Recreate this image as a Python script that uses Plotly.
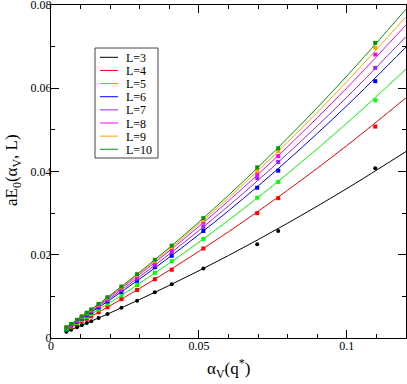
import plotly.graph_objects as go

# data points: alpha_V(q*) values
alpha = [0.0052, 0.0068, 0.0088, 0.0104, 0.0121, 0.0136, 0.0161, 0.0191,
         0.0238, 0.0291, 0.0351, 0.0408, 0.0515, 0.0697, 0.0768, 0.1096]

labels = ["L=3", "L=4", "L=5", "L=6", "L=7", "L=8", "L=9", "L=10"]
colors = ["#000000", "#ff0000", "#00ff00", "#0000ff", "#a020f0", "#ff00ff", "#ffa500", "#009900"]

E_L3 = [0.00151, 0.00199, 0.00259, 0.00307, 0.00358, 0.00404, 0.00481, 0.00575,
        0.00725, 0.00897, 0.01097, 0.01292, 0.0167, 0.0225, 0.0257, 0.0408]
E_L4 = [0.00195, 0.00256, 0.00333, 0.00395, 0.00461, 0.00520, 0.00619, 0.00740,
        0.00933, 0.01155, 0.01412, 0.01640, 0.0215, 0.0300, 0.0336, 0.0508]
E_L5 = [0.00214, 0.00280, 0.00365, 0.00433, 0.00506, 0.00571, 0.00681, 0.00814,
        0.01026, 0.01272, 0.01565, 0.01845, 0.0238, 0.0337, 0.0375, 0.0571]
E_L6 = [0.00230, 0.00302, 0.00393, 0.00467, 0.00546, 0.00616, 0.00734, 0.00878,
        0.01107, 0.01373, 0.01700, 0.01975, 0.0257, 0.0361, 0.0402, 0.0617]
E_L7 = [0.00240, 0.00315, 0.00410, 0.00486, 0.00568, 0.00641, 0.00764, 0.00914,
        0.01152, 0.01428, 0.01748, 0.02061, 0.0267, 0.0384, 0.0423, 0.0649]
E_L8 = [0.00249, 0.00326, 0.00425, 0.00504, 0.00589, 0.00665, 0.00792, 0.00947,
        0.01195, 0.01481, 0.01814, 0.02138, 0.0277, 0.0393, 0.0437, 0.0681]
E_L9 = [0.00253, 0.00332, 0.00432, 0.00513, 0.00600, 0.00677, 0.00807, 0.00965,
        0.01218, 0.01510, 0.01850, 0.02182, 0.0283, 0.0401, 0.0449, 0.0697]
E_L10 = [0.00256, 0.00336, 0.00438, 0.00520, 0.00608, 0.00686, 0.00818, 0.00979,
         0.01236, 0.01533, 0.01880, 0.02219, 0.0288, 0.0410, 0.0456, 0.0709]

fit_x = [0.0047, 0.02, 0.04, 0.06, 0.08, 0.10, 0.12]
fit_L3 = [0.00137, 0.00604, 0.01264, 0.01982, 0.02758, 0.0359, 0.0448]
fit_L4 = [0.00176, 0.00777, 0.01628, 0.02552, 0.0355, 0.04623, 0.0577]
fit_L5 = [0.00193, 0.00854, 0.01797, 0.02829, 0.0395, 0.0516, 0.0646]
fit_L6 = [0.00208, 0.00921, 0.0194, 0.03056, 0.0427, 0.0558, 0.0699]
fit_L7 = [0.00217, 0.00959, 0.02016, 0.03174, 0.0443, 0.05785, 0.0724]
fit_L8 = [0.00224, 0.00994, 0.02092, 0.03294, 0.04599, 0.06008, 0.0752]
fit_L9 = [0.00228, 0.01013, 0.02135, 0.03367, 0.04708, 0.06159, 0.0772]
fit_L10 = [0.00231, 0.01027, 0.02171, 0.03429, 0.04804, 0.06294, 0.0790]

points = [E_L3, E_L4, E_L5, E_L6, E_L7, E_L8, E_L9, E_L10]
fits = [fit_L3, fit_L4, fit_L5, fit_L6, fit_L7, fit_L8, fit_L9, fit_L10]

fig = go.Figure()
for lab, col, pts, ft in zip(labels, colors, points, fits):
    fig.add_trace(go.Scatter(x=fit_x, y=ft, mode="lines", name=lab,
                             line=dict(color=col, width=1, shape="spline"),
                             showlegend=False, hoverinfo="skip"))
    fig.add_trace(go.Scatter(x=alpha, y=pts, mode="markers", name=lab,
                             marker=dict(color=col, size=4,
                                         symbol="circle" if lab == "L=3" else "square"),
                             showlegend=False))

# manual legend box (pixel geometry of the plot area: x 51..406, y 5..338)
W, H, L0 = 355.0, 333.0, 51.0
def px(x):
    return (x - L0) / W
def py(y):
    return (338.0 - y) / H

shapes = [dict(type="rect", xref="paper", yref="paper",
               x0=px(95), x1=px(158), y0=py(158), y1=py(48),
               line=dict(color="#444444", width=1), fillcolor="white", layer="above")]
annotations = []
for i, (lab, col) in enumerate(zip(labels, colors)):
    yy = 57.3 + i * 13.14
    shapes.append(dict(type="line", xref="paper", yref="paper",
                       x0=px(100), x1=px(118), y0=py(yy), y1=py(yy),
                       line=dict(color=col, width=1), layer="above"))
    annotations.append(dict(xref="paper", yref="paper", x=px(125), y=py(yy),
                            text=lab, showarrow=False, xanchor="left", yanchor="middle",
                            height=13, borderpad=0,
                            font=dict(family="Liberation Serif", size=12, color="black")))

# axis titles as annotations
annotations.append(dict(xref="paper", yref="paper", x=px(228), y=py(368),
                        text="α<sub>V</sub>(q<sup>*</sup>)", showarrow=False,
                        xanchor="center", yanchor="middle",
                        font=dict(family="Liberation Serif", size=17, color="black")))
annotations.append(dict(xref="paper", yref="paper", x=px(13), y=py(170),
                        text="aE<sub>0</sub>(α<sub>V</sub>, L)", showarrow=False, textangle=-90,
                        xanchor="center", yanchor="middle",
                        font=dict(family="Liberation Serif", size=17, color="black")))

fig.update_layout(
    width=407, height=384,
    margin=dict(l=51, r=1, t=5, b=46, autoexpand=False),
    paper_bgcolor="white", plot_bgcolor="white",
    font=dict(family="Liberation Serif", size=12, color="black"),
    shapes=shapes, annotations=annotations,
    xaxis=dict(range=[0, 0.12], tickvals=[0, 0.05, 0.1], ticktext=["0", "0.05", "0.1"],
               ticks="inside", ticklen=8, tickcolor="black", showgrid=False, zeroline=False,
               showline=True, linecolor="black", linewidth=1, mirror="ticks",
               automargin=False, ticklabeloverflow="allow", ticklabelstandoff=-3,
               minor=dict(dtick=0.01, tick0=0, ticks="inside", ticklen=4, tickcolor="black", showgrid=False),
               tickfont=dict(size=12)),
    yaxis=dict(range=[0, 0.08], tickvals=[0, 0.02, 0.04, 0.06, 0.08],
               ticktext=["0", "0.02", "0.04", "0.06", "0.08"],
               ticks="inside", ticklen=8, tickcolor="black", showgrid=False, zeroline=False,
               showline=True, linecolor="black", linewidth=1, mirror="ticks",
               automargin=False, ticklabeloverflow="allow", ticklabelstandoff=-4,
               minor=dict(dtick=0.01, tick0=0, ticks="inside", ticklen=4, tickcolor="black", showgrid=False),
               tickfont=dict(size=12)),
)

fig.write_html("out.html", config={"displayModeBar": False},
               post_script="document.body.style.margin='0';")
